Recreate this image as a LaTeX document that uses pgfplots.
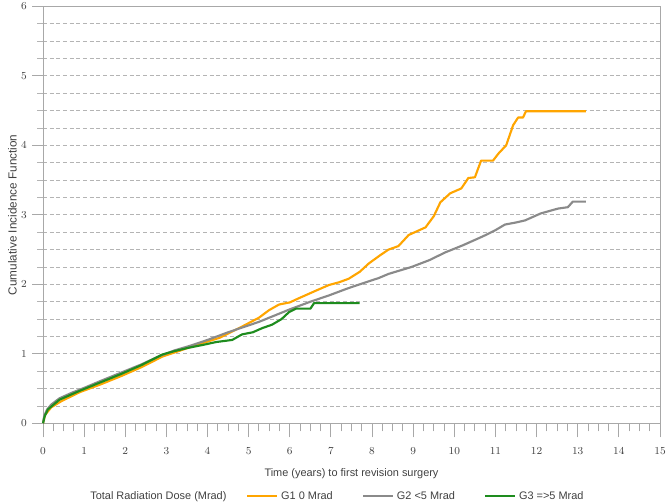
\documentclass[border=0pt]{standalone}
\usepackage{fontspec}
\setmainfont{Liberation Sans}
\usepackage{pgfplots}
\pgfplotsset{compat=1.18}
\definecolor{gOrange}{HTML}{FFA500}
\definecolor{gGray}{HTML}{8A8A8A}
\definecolor{gGreen}{HTML}{1E8C1E}
\definecolor{axGray}{HTML}{A8A8A8}
\definecolor{grGray}{HTML}{B4B4B4}
\definecolor{txGray}{HTML}{404040}
\begin{document}
\begin{tikzpicture}[x=1pt,y=1pt]
\begin{axis}[
  at={(0pt,0pt)}, anchor=south west,
  scale only axis, width=462.75pt, height=312.75pt,
  xmin=0, xmax=15, ymin=0, ymax=6,
  xtick={0,1,...,15}, ytick={0,1,...,6},
  minor x tick num=3, minor y tick num=3,
  xtick pos=lower, ytick pos=left,
  tick align=outside, major tick length=10.5pt, minor tick length=6pt,
  ymajorgrids, yminorgrids,
  major grid style={grGray, dash pattern=on 3pt off 2pt, line width=0.6pt},
  minor grid style={grGray, dash pattern=on 3pt off 2pt, line width=0.6pt},
  axis line style={axGray, line width=0.7pt},
  x tick style={axGray, line width=0.7pt},
  y tick style={draw=none},
  tick label style={font=\fontsize{8.2}{10}\selectfont, text=txGray},
  xticklabel style={yshift=-4.5pt},
  yticklabel style={xshift=1.8pt},
  xlabel={Time (years) to first revision surgery},
  ylabel={Cumulative Incidence Function},
  xlabel style={font=\fontsize{8.2}{10}\selectfont, text=txGray, at={(axis description cs:0.5,-0.12)}, anchor=center},
  ylabel style={font=\fontsize{8.8}{10}\selectfont, text=txGray, at={(axis description cs:-0.0497,0.5)}, anchor=center},
  legend columns=-1,
  legend style={draw=none, fill=none, inner sep=0pt,
    at={(axis description cs:0.072,-0.175)}, anchor=west,
    font=\fontsize{8.2}{10}\selectfont, text=txGray,
    /tikz/every even column/.append style={column sep=20pt}},
  legend image code/.code={\draw[#1] (0pt,0pt) -- (22.5pt,0pt);},
  clip=false,
]
\addlegendimage{empty legend}
\addlegendentry{\makebox[95pt][l]{Total Radiation Dose (Mrad)}}

% G1 0 Mrad (orange)
\addplot[gOrange, line width=1.6pt, line join=round] coordinates {
(0,0) (0.05,0.12) (0.2,0.23) (0.45,0.32) (0.9,0.45) (1.4,0.56) (1.9,0.68)
(2.4,0.81) (2.9,0.96) (3.3,1.04) (3.8,1.14) (4.29,1.23) (4.8,1.38)
(5.25,1.52) (5.5,1.63) (5.74,1.71) (6.0,1.74) (6.22,1.80) (6.6,1.90)
(6.95,1.99) (7.2,2.03) (7.43,2.08) (7.7,2.18) (7.92,2.30) (8.2,2.42)
(8.4,2.50) (8.64,2.55) (8.89,2.71) (9.3,2.82) (9.5,2.98) (9.66,3.18)
(9.9,3.31) (10.17,3.38) (10.34,3.53) (10.5,3.54) (10.65,3.78) (10.94,3.78)
(11.07,3.88) (11.26,4.0) (11.43,4.29) (11.55,4.40) (11.67,4.40) (11.74,4.49)
(13.2,4.49)
};
\addlegendentry{G1 0 Mrad}

% G2 <5 Mrad (gray)
\addplot[gGray, line width=1.6pt, line join=round] coordinates {
(0,0) (0.03,0.11) (0.1,0.2) (0.2,0.27) (0.4,0.36) (0.7,0.44) (1.0,0.51)
(1.4,0.61) (1.9,0.73) (2.4,0.85) (2.8,0.96) (3.2,1.05) (3.6,1.12)
(4.0,1.2) (4.5,1.31) (5.0,1.41) (5.25,1.46) (5.5,1.52) (6.0,1.64)
(6.5,1.75) (6.95,1.84) (7.4,1.94) (7.8,2.02) (8.16,2.09) (8.4,2.15)
(8.96,2.25) (9.4,2.35) (9.78,2.46) (10.2,2.56) (10.58,2.66) (10.8,2.72)
(11.0,2.78) (11.23,2.86) (11.5,2.89) (11.72,2.92) (12.1,3.02) (12.52,3.09)
(12.76,3.11) (12.88,3.19) (13.2,3.19)
};
\addlegendentry{G2 <5 Mrad}

% G3 =>5 Mrad (green)
\addplot[gGreen, line width=1.6pt, line join=round] coordinates {
(0,0) (0.04,0.1) (0.12,0.2) (0.4,0.34) (0.9,0.47) (1.4,0.59) (1.9,0.71)
(2.4,0.84) (2.9,0.99) (3.2,1.04) (3.56,1.09) (3.9,1.13) (4.21,1.17)
(4.6,1.2) (4.84,1.28) (5.1,1.31) (5.33,1.37) (5.57,1.42) (5.8,1.5)
(5.98,1.6) (6.15,1.65) (6.5,1.65) (6.59,1.73) (7.7,1.73)
};
\addlegendentry{G3 =>5 Mrad}

\pgfplotsinvokeforeach{0,1,2,3,4,5,6}{
  \draw[axGray, line width=0.7pt] (axis cs:0,#1) -- ++(-8.25pt,0pt);
}
\pgfplotsinvokeforeach{0.25,0.5,0.75,1.25,1.5,1.75,2.25,2.5,2.75,3.25,3.5,3.75,4.25,4.5,4.75,5.25,5.5,5.75}{
  \draw[grGray, line width=0.6pt] (axis cs:0,#1) -- ++(-4.5pt,0pt);
}
\end{axis}
\pgfresetboundingbox
\useasboundingbox (-32.25pt,-60pt) rectangle (468pt,317.5pt);
\end{tikzpicture}
\end{document}
